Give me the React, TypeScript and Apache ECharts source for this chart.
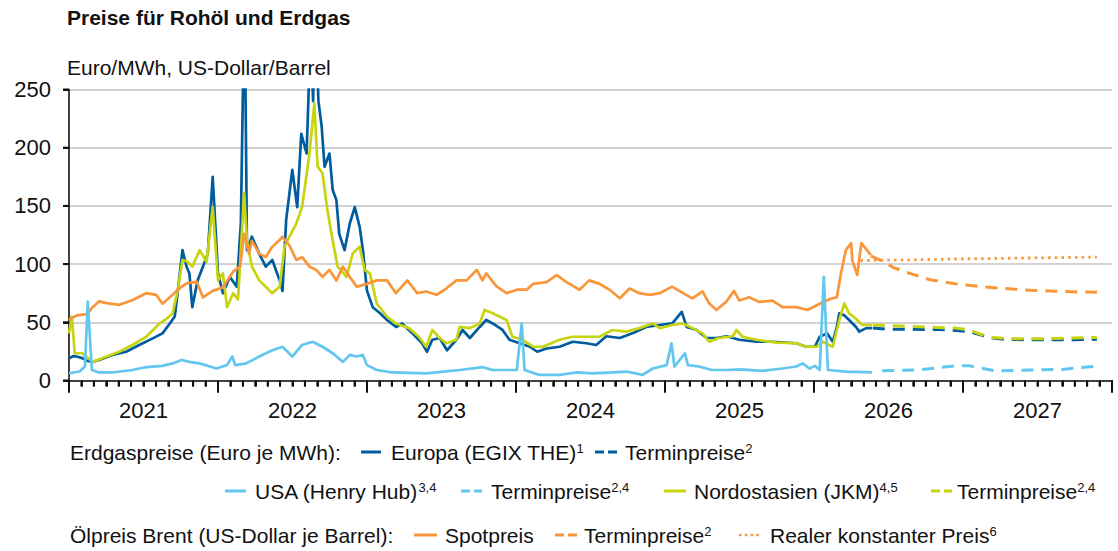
import React, { useEffect, useRef } from "react";
import * as echarts from "echarts";

const FONT = "'Liberation Sans', Arial, sans-serif";

const yearLabels = ["2021", "2022", "2023", "2024", "2025", "2026", "2027"];
const yTickValues = [0, 50, 100, 150, 200, 250];

// Erdgas Europa (EGIX THE), Euro/MWh
const europa: [string, number][] = [
  ["2021-01-01", 19], ["2021-01-12", 21], ["2021-01-20", 20.6], ["2021-02-04", 19], ["2021-02-14", 17],
  ["2021-02-28", 16], ["2021-03-16", 17.6], ["2021-04-17", 22], ["2021-05-21", 24.7], ["2021-06-22", 30.5],
  ["2021-07-24", 36], ["2021-08-18", 40.5], ["2021-09-05", 49], ["2021-09-17", 55], ["2021-09-24", 75],
  ["2021-10-06", 112], ["2021-10-16", 97.8], ["2021-10-23", 92], ["2021-10-30", 63], ["2021-11-12", 86],
  ["2021-11-25", 97.8], ["2021-12-07", 109], ["2021-12-19", 175], ["2022-01-01", 92], ["2022-01-13", 75],
  ["2022-01-30", 89], ["2022-02-16", 80.6], ["2022-02-26", 135], ["2022-03-07", 340], ["2022-03-13", 112],
  ["2022-03-25", 123.5], ["2022-04-12", 109], ["2022-04-28", 97.8], ["2022-05-14", 103.5], ["2022-06-01", 86],
  ["2022-06-08", 77], ["2022-06-17", 138], ["2022-07-02", 181], ["2022-07-14", 149], ["2022-07-24", 212],
  ["2022-08-06", 195], ["2022-08-16", 300], ["2022-08-22", 240], ["2022-08-27", 330], ["2022-09-04", 240],
  ["2022-09-12", 218], ["2022-09-19", 183.7], ["2022-10-01", 195], ["2022-10-09", 163.7], ["2022-10-18", 155],
  ["2022-10-25", 126], ["2022-11-07", 112], ["2022-11-20", 135], ["2022-12-02", 149], ["2022-12-14", 132],
  ["2022-12-22", 112], ["2023-01-01", 77], ["2023-01-15", 63], ["2023-02-02", 57.7], ["2023-02-19", 52],
  ["2023-03-13", 46], ["2023-03-28", 49], ["2023-04-22", 40.5], ["2023-05-16", 32], ["2023-05-28", 24.7],
  ["2023-06-10", 35], ["2023-06-28", 36.5], ["2023-07-16", 26], ["2023-08-08", 35], ["2023-08-23", 43.4],
  ["2023-09-10", 36.5], ["2023-10-04", 46], ["2023-10-20", 52], ["2023-11-05", 49], ["2023-11-29", 43.4],
  ["2023-12-16", 35], ["2024-01-10", 32], ["2024-02-04", 29], ["2024-02-22", 24.7], ["2024-03-16", 27.5],
  ["2024-04-17", 29], ["2024-05-19", 33.3], ["2024-06-22", 32], ["2024-07-16", 30.5], ["2024-08-10", 38],
  ["2024-09-12", 36.5], ["2024-10-13", 40.5], ["2024-11-16", 46], ["2024-12-19", 47.7], ["2025-01-19", 49],
  ["2025-02-11", 59], ["2025-02-23", 46], ["2025-03-19", 43.4], ["2025-04-13", 36.5], ["2025-05-07", 36.5],
  ["2025-06-01", 38], ["2025-07-02", 35], ["2025-08-13", 33.3], ["2025-09-21", 33.3], ["2025-11-19", 32],
  ["2025-12-13", 29], ["2026-01-03", 29], ["2026-01-15", 37.6], ["2026-02-02", 40.5], ["2026-02-16", 33.3],
  ["2026-02-26", 46], ["2026-03-04", 57.7], ["2026-03-16", 56], ["2026-03-28", 52], ["2026-04-14", 46],
  ["2026-04-22", 42], ["2026-05-09", 45], ["2026-05-23", 45],
];
const europaTermin: [string, number][] = [
  ["2026-05-25", 45], ["2026-07-01", 44], ["2026-09-01", 44], ["2026-11-01", 43.8], ["2026-12-15", 43],
  ["2027-01-15", 42], ["2027-02-15", 39], ["2027-03-15", 36.5], ["2027-04-15", 35.3], ["2027-06-15", 35],
  ["2027-09-15", 35], ["2027-11-25", 35.5],
];

// USA (Henry Hub)
const usa: [string, number][] = [
  ["2021-01-01", 6.2], ["2021-01-27", 7.7], ["2021-02-09", 12], ["2021-02-16", 67.7], ["2021-02-26", 9],
  ["2021-03-16", 6.9], ["2021-04-17", 6.9], ["2021-06-05", 9], ["2021-07-09", 11.5], ["2021-08-18", 12.6],
  ["2021-09-12", 14.7], ["2021-10-04", 17.6], ["2021-10-23", 16], ["2021-11-17", 14.7], ["2021-12-12", 12],
  ["2021-12-28", 10.3], ["2022-01-23", 13.2], ["2022-02-05", 20.6], ["2022-02-12", 13.2], ["2022-03-11", 14.7],
  ["2022-04-12", 20.6], ["2022-05-14", 26], ["2022-06-08", 29], ["2022-07-02", 20.6], ["2022-07-26", 30.5],
  ["2022-08-21", 33.3], ["2022-09-14", 29], ["2022-10-09", 23.4], ["2022-11-03", 16], ["2022-11-20", 22],
  ["2022-12-07", 20.6], ["2022-12-22", 22], ["2023-01-01", 13.2], ["2023-01-25", 9], ["2023-03-04", 6.9],
  ["2023-05-26", 6.2], ["2023-08-16", 9], ["2023-10-11", 11.5], ["2023-11-05", 9], ["2024-01-03", 9],
  ["2024-01-15", 49], ["2024-01-22", 9], ["2024-02-28", 4.8], ["2024-04-17", 4.8], ["2024-05-28", 6.9],
  ["2024-07-07", 6.2], ["2024-08-25", 6.9], ["2024-09-28", 7.7], ["2024-11-07", 4.8], ["2024-12-02", 10.3],
  ["2025-01-05", 13.2], ["2025-01-17", 32], ["2025-01-24", 12], ["2025-02-19", 23.4], ["2025-02-26", 13.2],
  ["2025-03-25", 12], ["2025-04-26", 9], ["2025-06-01", 9], ["2025-07-02", 9.5], ["2025-08-27", 8.3],
  ["2025-10-16", 10.3], ["2025-11-19", 12], ["2025-12-04", 14.7], ["2025-12-21", 10.3], ["2026-01-03", 12.6],
  ["2026-01-15", 9], ["2026-01-25", 89], ["2026-02-04", 9], ["2026-03-20", 7.7], ["2026-05-23", 6.9],
];
const usaTermin: [string, number][] = [
  ["2026-06-17", 8.3], ["2026-09-08", 9], ["2026-12-16", 12.6], ["2027-01-17", 12.6], ["2027-03-22", 8.3],
  ["2027-06-12", 9], ["2027-09-01", 9.5], ["2027-12-01", 12.6],
];

// Nordostasien (JKM)
const jkm: [string, number][] = [
  ["2021-01-01", 40.5], ["2021-01-08", 55], ["2021-01-15", 23.4], ["2021-02-02", 23.4], ["2021-02-16", 19.5],
  ["2021-02-28", 16], ["2021-04-03", 20.6], ["2021-05-04", 24.7], ["2021-06-05", 30.5], ["2021-07-09", 37.6],
  ["2021-08-11", 49], ["2021-08-28", 53], ["2021-09-12", 57.7], ["2021-09-24", 77], ["2021-10-06", 103.5],
  ["2021-10-18", 102], ["2021-10-30", 97.8], ["2021-11-17", 112], ["2021-12-04", 102], ["2021-12-19", 149],
  ["2022-01-01", 86], ["2022-01-13", 92], ["2022-01-23", 63], ["2022-02-07", 75], ["2022-02-19", 69.6],
  ["2022-03-06", 161], ["2022-03-13", 120], ["2022-03-25", 98], ["2022-04-12", 86], ["2022-04-28", 80.6],
  ["2022-05-14", 75], ["2022-06-01", 80.6], ["2022-06-13", 115], ["2022-06-25", 123.5], ["2022-07-12", 135],
  ["2022-07-26", 149], ["2022-08-13", 195], ["2022-08-25", 238], ["2022-09-02", 183.7], ["2022-09-14", 178],
  ["2022-09-26", 146.5], ["2022-10-09", 120], ["2022-10-21", 98], ["2022-11-12", 89], ["2022-11-27", 109],
  ["2022-12-14", 115], ["2022-12-26", 95], ["2023-01-08", 92], ["2023-01-25", 66], ["2023-02-19", 55],
  ["2023-03-13", 49], ["2023-04-14", 45], ["2023-05-08", 37.6], ["2023-05-26", 29], ["2023-06-10", 43.4],
  ["2023-06-28", 36.5], ["2023-07-14", 32], ["2023-08-08", 35], ["2023-08-16", 46], ["2023-09-10", 45],
  ["2023-10-04", 49], ["2023-10-16", 60.6], ["2023-11-05", 57.7], ["2023-12-09", 52], ["2023-12-23", 37.6],
  ["2024-01-17", 35], ["2024-02-12", 29], ["2024-03-07", 29], ["2024-04-17", 35], ["2024-05-19", 37.6],
  ["2024-06-22", 37.6], ["2024-07-24", 37.6], ["2024-08-25", 43.4], ["2024-09-28", 42], ["2024-10-30", 45],
  ["2024-12-02", 49], ["2024-12-19", 45], ["2025-01-19", 47.7], ["2025-02-14", 49], ["2025-03-09", 45],
  ["2025-04-03", 40.5], ["2025-04-19", 33.3], ["2025-05-13", 36.5], ["2025-06-16", 38], ["2025-06-25", 43.4],
  ["2025-07-10", 37.6], ["2025-08-13", 35], ["2025-10-01", 32.5], ["2025-11-19", 32], ["2025-12-13", 29],
  ["2026-01-08", 29], ["2026-01-22", 33.3], ["2026-02-16", 29], ["2026-03-04", 52], ["2026-03-16", 66.3],
  ["2026-03-28", 57.7], ["2026-04-14", 53], ["2026-04-29", 47.7], ["2026-05-23", 47.7],
];
const jkmTermin: [string, number][] = [
  ["2026-05-25", 47.7], ["2026-08-01", 46.8], ["2026-11-01", 45.5], ["2026-12-15", 45], ["2027-01-15", 43.5],
  ["2027-02-15", 39.5], ["2027-03-15", 37], ["2027-05-01", 35.8], ["2027-08-01", 36], ["2027-11-25", 37],
];

// Ölpreis Brent, US-Dollar je Barrel
const brent: [string, number][] = [
  ["2021-01-01", 52], ["2021-01-20", 56], ["2021-02-14", 57], ["2021-02-28", 63], ["2021-03-16", 68],
  ["2021-04-03", 66.5], ["2021-05-04", 65], ["2021-06-05", 69], ["2021-07-09", 75], ["2021-08-03", 73.5],
  ["2021-08-18", 66], ["2021-09-05", 71.5], ["2021-09-28", 79], ["2021-10-16", 83.5], ["2021-11-10", 85],
  ["2021-11-25", 71.5], ["2021-12-19", 77], ["2022-01-13", 80], ["2022-02-07", 93.5], ["2022-02-24", 97.8],
  ["2022-03-06", 126], ["2022-03-18", 109], ["2022-03-25", 120], ["2022-04-12", 109], ["2022-04-28", 106],
  ["2022-05-14", 115], ["2022-06-01", 120.7], ["2022-06-08", 123.5], ["2022-06-25", 116], ["2022-07-12", 103.5],
  ["2022-07-26", 106], ["2022-08-13", 97.8], ["2022-08-30", 95], ["2022-09-14", 89], ["2022-10-01", 95],
  ["2022-10-18", 86], ["2022-11-03", 97.8], ["2022-11-20", 89], ["2022-12-07", 80.6], ["2023-01-01", 83],
  ["2023-01-25", 86], ["2023-02-19", 86], ["2023-03-13", 75], ["2023-04-10", 86], ["2023-05-04", 75],
  ["2023-05-26", 76.5], ["2023-06-20", 73.6], ["2023-07-14", 79], ["2023-08-08", 86], ["2023-09-02", 86],
  ["2023-09-27", 95], ["2023-10-11", 86], ["2023-10-20", 92], ["2023-11-15", 80.6], ["2023-12-09", 75],
  ["2024-01-03", 78], ["2024-01-27", 78], ["2024-02-12", 83], ["2024-03-16", 84.5], ["2024-04-10", 90.6],
  ["2024-05-04", 84.5], ["2024-06-05", 78], ["2024-06-29", 86], ["2024-07-24", 83], ["2024-08-18", 78],
  ["2024-09-12", 70.6], ["2024-10-06", 79], ["2024-10-30", 75], ["2024-11-25", 73.6], ["2024-12-19", 75],
  ["2025-01-18", 80.6], ["2025-02-07", 76.5], ["2025-03-09", 70.6], ["2025-04-03", 76.5], ["2025-04-19", 66.3],
  ["2025-05-07", 60.6], ["2025-06-01", 68], ["2025-06-19", 77], ["2025-07-02", 68.7], ["2025-07-26", 71.5],
  ["2025-08-20", 67.5], ["2025-09-21", 68.7], ["2025-10-16", 63], ["2025-11-19", 63], ["2025-12-16", 60.6],
  ["2026-01-15", 66], ["2026-02-09", 70], ["2026-02-26", 71.5], ["2026-03-08", 92], ["2026-03-20", 112],
  ["2026-04-02", 118], ["2026-04-05", 103], ["2026-04-17", 90.6], ["2026-04-27", 118], ["2026-05-20", 108],
];
const brentTermin: [string, number][] = [
  ["2026-05-20", 107], ["2026-06-15", 103], ["2026-07-15", 97], ["2026-08-15", 93], ["2026-09-15", 89.5],
  ["2026-10-15", 86.3], ["2026-12-15", 83], ["2027-02-15", 80.5], ["2027-04-15", 79], ["2027-06-15", 77.5],
  ["2027-08-15", 76.7], ["2027-10-15", 76], ["2027-11-25", 75.8],
];
const brentReal: [string, number][] = [
  ["2026-04-25", 103], ["2026-09-01", 103.7], ["2027-01-01", 104.5], ["2027-06-01", 105.2], ["2027-11-25", 106],
];

const C_EU = "#005c9e";
const C_US = "#62c6ef";
const C_JKM = "#c8d40f";
const C_OIL = "#f9963a";
const C_AXIS = "#111111";

function toYear(d: string): number {
  const [y, m, dd] = d.split("-").map(Number);
  const start = Date.UTC(y, 0, 1);
  const end = Date.UTC(y + 1, 0, 1);
  return y + (Date.UTC(y, m - 1, dd) - start) / (end - start);
}
const pts = (arr: [string, number][]) => arr.map(([d, v]) => [toYear(d), v]);

function lineSeries(name: string, data: [string, number][], color: string, type: any, width: number, z: number) {
  return {
    name,
    type: "line",
    data: pts(data),
    showSymbol: false,
    symbol: "none",
    clip: true,
    silent: true,
    z,
    lineStyle: { color, width, type, cap: "butt", join: "round" },
  };
}

const txt = (x: number, y: number, text: string, extra: any = {}) => ({
  type: "text",
  x,
  y,
  silent: true,
  style: {
    text,
    fill: "#111",
    font: `21px ${FONT}`,
    verticalAlign: "middle",
    rich: {
      s: { fontSize: 13, fontFamily: FONT, fill: "#111", verticalAlign: "top", lineHeight: 13 },
    },
    ...extra,
  },
});

const mark = (x1: number, x2: number, y: number, color: string, dash?: number[], w = 3) => ({
  type: "line",
  silent: true,
  shape: { x1, y1: y, x2, y2: y },
  style: { stroke: color, lineWidth: w, lineDash: dash || null },
});

export default function App() {
  const ref = useRef<HTMLDivElement>(null);
  useEffect(() => {
    if (!ref.current) return;
    const chart = echarts.init(ref.current, undefined, { renderer: "svg" });
    const R1 = 452, R2 = 491, R3 = 535;
    const legend: any[] = [
      txt(67, 17, "Preise für Rohöl und Erdgas", { font: `bold 21px ${FONT}` }),
      txt(67, 67, "Euro/MWh, US-Dollar/Barrel"),
      // row 1
      txt(70, R1, "Erdgaspreise (Euro je MWh):"),
      mark(361, 381, R1, C_EU),
      txt(391, R1, "Europa (EGIX THE){s|1}"),
      mark(595, 617, R1, C_EU, [9, 4]),
      txt(625, R1, "Terminpreise{s|2}"),
      // row 2
      mark(225, 246, R2, C_US),
      txt(255, R2, "USA (Henry Hub){s|3,4}"),
      mark(461, 482, R2, C_US, [9, 4]),
      txt(491, R2, "Terminpreise{s|2,4}"),
      mark(664, 686, R2, C_JKM),
      txt(694, R2, "Nordostasien (JKM){s|4,5}"),
      mark(931, 952, R2, C_JKM, [9, 4]),
      txt(957, R2, "Terminpreise{s|2,4}"),
      // row 3
      txt(70, R3, "Ölpreis Brent (US-Dollar je Barrel):"),
      mark(414, 437, R3, C_OIL),
      txt(445, R3, "Spotpreis"),
      mark(555, 577, R3, C_OIL, [9, 4]),
      txt(584, R3, "Terminpreise{s|2}"),
      mark(739, 760, R3, C_OIL, [2.5, 3.3], 2.6),
      txt(770, R3, "Realer konstanter Preis{s|6}"),
    ];
    chart.setOption({
      animation: false,
      grid: {
        left: 69,
        right: 6,
        top: 89.5,
        bottom: 170.5,
        containLabel: false,
        outerBoundsMode: "none",
      },
      xAxis: {
        type: "value",
        min: 2021,
        max: 2028,
        interval: 1,
        axisLine: { show: true, lineStyle: { color: C_AXIS, width: 1.6 } },
        axisTick: { show: true, length: 12, lineStyle: { color: C_AXIS, width: 2 } },
        minorTick: { show: true, splitNumber: 12, length: 6, lineStyle: { color: C_AXIS, width: 2 } },
        axisLabel: { show: true, formatter: () => "" },
        splitLine: { show: false },
      },
      yAxis: {
        type: "value",
        min: 0,
        max: 250,
        interval: 50,
        axisLine: { show: true, lineStyle: { color: C_AXIS, width: 1.6 } },
        axisTick: { show: true, length: 6, lineStyle: { color: C_AXIS, width: 2 } },
        axisLabel: { margin: 18, fontSize: 22, color: "#111", fontFamily: FONT },
        splitLine: { show: true, lineStyle: { color: "#c3c3c3", width: 1.6 } },
      },
      series: [
        lineSeries("Europa", europa, C_EU, "solid", 2.7, 2),
        lineSeries("Europa Termin", europaTermin, C_EU, [12, 8], 3, 2),
        lineSeries("JKM", jkm, C_JKM, "solid", 2.7, 3),
        lineSeries("JKM Termin", jkmTermin, C_JKM, [12, 8], 3, 3),
        lineSeries("Brent", brent, C_OIL, "solid", 2.7, 4),
        lineSeries("Brent Termin", brentTermin, C_OIL, [12, 8], 3, 4),
        lineSeries("Brent real", brentReal, C_OIL, [2.5, 4.2], 2.8, 4),
        lineSeries("USA", usa, C_US, "solid", 2.7, 5),
        lineSeries("USA Termin", usaTermin, C_US, [12, 8], 3, 5),
      ],
      graphic: legend,
    });

    // Year labels and tick marks placed through the axes' own scales.
    try {
      const y0 = chart.convertToPixel({ yAxisIndex: 0 }, 0) as number;
      const xLeft = chart.convertToPixel({ xAxisIndex: 0 }, 2021) as number;
      const extra: any[] = [];
      yearLabels.forEach((yl) => {
        const year = Number(yl);
        const cx = chart.convertToPixel({ xAxisIndex: 0 }, year + 0.5) as number;
        extra.push({
          type: "text",
          x: cx,
          y: y0 + 30,
          silent: true,
          style: { text: yl, fill: "#111", font: `22px ${FONT}`, align: "center", verticalAlign: "middle" },
        });
        for (let m = 0; m < 12; m++) {
          const px = chart.convertToPixel({ xAxisIndex: 0 }, year + m / 12) as number;
          extra.push({
            type: "line",
            shape: { x1: px, y1: y0, x2: px, y2: y0 + (m === 0 ? 12 : 6) },
            style: { stroke: C_AXIS, lineWidth: 2 },
          });
        }
      });
      const pxEnd = chart.convertToPixel({ xAxisIndex: 0 }, 2028) as number;
      extra.push({
        type: "line",
        shape: { x1: pxEnd, y1: y0, x2: pxEnd, y2: y0 + 12 },
        style: { stroke: C_AXIS, lineWidth: 2 },
      });
      yTickValues.forEach((v) => {
        const py = chart.convertToPixel({ yAxisIndex: 0 }, v) as number;
        extra.push({
          type: "line",
          shape: { x1: xLeft - 6, y1: py, x2: xLeft, y2: py },
          style: { stroke: C_AXIS, lineWidth: 2 },
        });
      });
      chart.setOption({ graphic: legend.concat(extra) });
    } catch (e) {
      // keep the chart as drawn
    }

    return () => chart.dispose();
  }, []);
  return <div ref={ref} style={{ position: "absolute", left: 0, top: 0, width: 1118, height: 551 }} />;
}
